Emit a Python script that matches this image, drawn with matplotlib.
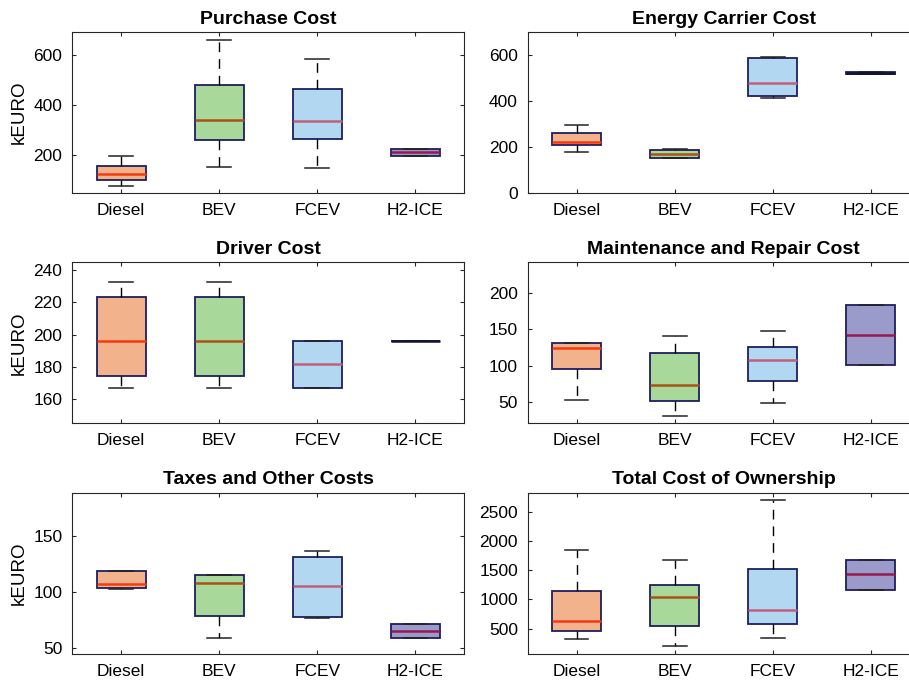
import matplotlib
matplotlib.use('Agg')
import matplotlib.pyplot as plt

plt.rcParams['font.family'] = ['Liberation Sans', 'DejaVu Sans']

# Categories and colours
vehicles = ['Diesel', 'BEV', 'FCEV', 'H2-ICE']
fill_colors = ['#f2b38c', '#a8d99b', '#b1d8f0', '#9a9acb']
median_colors = ['#f53a10', '#a8531a', '#c0607a', '#99184f']

# Box statistics: (whislo, q1, med, q3, whishi)
purchase_cost = [(76, 98, 124, 156, 196), (151, 258, 340, 479, 660),
                 (148, 263, 336, 462, 584), (196, 196, 212, 224, 224)]
energy_cost = [(181, 209, 225, 263, 298), (152, 153, 170, 189, 192),
               (413, 423, 478, 588, 590), (519, 519, 522, 525, 525)]
driver_cost = [(167, 174.3, 196.3, 223.4, 232.5), (167, 174.3, 196.3, 223.4, 232.5),
               (167, 167, 181.7, 196.3, 196.3), (196.3, 196.3, 196.3, 196.3, 196.3)]
maint_cost = [(52.3, 95, 124.1, 130.6, 131), (30, 50.5, 72.8, 117.6, 141),
              (47.7, 78.3, 107.9, 125.5, 147.7), (101, 101, 142.6, 183.3, 183.3)]
taxes_cost = [(103.5, 104.1, 107.1, 118.75, 119.5), (59.5, 78.8, 108.6, 116, 116),
              (76.8, 78, 105.9, 131.8, 136.9), (59.2, 59.2, 65.5, 71.7, 71.7)]
total_cost = [(330, 455, 636, 1142, 1840), (200, 540, 1040, 1250, 1675),
              (335, 575, 820, 1512, 2705), (1170, 1170, 1437, 1675, 1675)]

titles = ['Purchase Cost', 'Energy Carrier Cost', 'Driver Cost',
          'Maintenance and Repair Cost', 'Taxes and Other Costs', 'Total Cost of Ownership']
all_data = [purchase_cost, energy_cost, driver_cost, maint_cost, taxes_cost, total_cost]
ylims = [(45, 690), (0, 700), (145, 245), (20, 243), (45, 189), (70, 2820)]
yticks = [[200, 400, 600], [0, 200, 400, 600], [160, 180, 200, 220, 240],
          [50, 100, 150, 200], [50, 100, 150], [500, 1000, 1500, 2000, 2500]]

fig = plt.figure(figsize=(9.09, 6.84), dpi=100)

# axes positions (left, bottom) in figure fractions
lefts = [0.0792, 0.5805]
bottoms = [0.7174, 0.3811, 0.0439]
w, h = 0.4316, 0.2356

for i in range(6):
    row, col = divmod(i, 2)
    ax = fig.add_axes([lefts[col], bottoms[row], w, h])
    stats = []
    for name, s in zip(vehicles, all_data[i]):
        stats.append({'label': name, 'whislo': s[0], 'q1': s[1], 'med': s[2],
                      'q3': s[3], 'whishi': s[4], 'fliers': []})
    bp = ax.bxp(stats, positions=[1, 2, 3, 4], widths=0.5, patch_artist=True,
                showfliers=False,
                boxprops=dict(edgecolor='#1e1e5e', linewidth=1.3),
                whiskerprops=dict(color='black', linewidth=1.0, linestyle=(0, (7, 5))),
                capprops=dict(color='#222222', linewidth=1.1),
                medianprops=dict(linewidth=1.8))
    yr = ylims[i][1] - ylims[i][0]
    for j, patch in enumerate(bp['boxes']):
        patch.set_facecolor(fill_colors[j])
    for j, med in enumerate(bp['medians']):
        med.set_color(median_colors[j])
        # collapsed box: only the dark outline shows
        if all_data[i][j][3] - all_data[i][j][1] < 0.02 * yr:
            med.set_color('#111133')
    for cap in bp['caps']:
        xd = cap.get_xdata()
        c = (xd[0] + xd[1]) / 2
        cap.set_xdata([c - 0.12, c + 0.12])

    ax.set_xlim(0.5, 4.5)
    ax.set_ylim(*ylims[i])
    ax.set_yticks(yticks[i])
    ax.set_title(titles[i], fontsize=14, fontweight='bold', pad=6)
    ax.tick_params(direction='in', length=3, width=0.8, top=True, right=True,
                   labelsize=12.5, colors='#262626', pad=7)
    ax.tick_params(axis='both', labelcolor='black')
    for sp in ax.spines.values():
        sp.set_color('#262626')
        sp.set_linewidth(0.8)
    if col == 0:
        ax.set_ylabel('kEURO', fontsize=13.5)

fig.savefig('out.png', dpi=100)
